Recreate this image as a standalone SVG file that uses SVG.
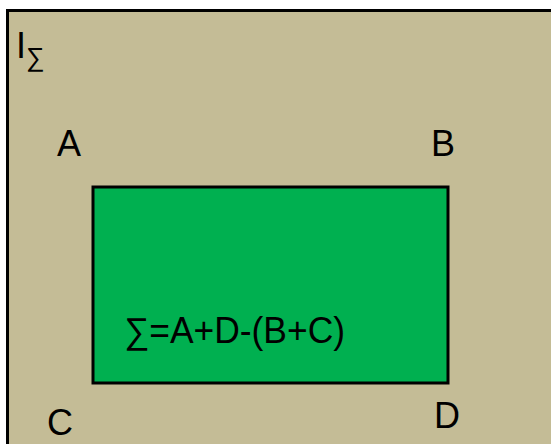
<svg xmlns="http://www.w3.org/2000/svg" width="551" height="444" viewBox="0 0 551 444">
<style>
.lbl{font-family:"Liberation Sans",Arial,sans-serif;font-size:36px;fill:#000}
.box{stroke:#000;stroke-width:3}
</style>
<rect width="551" height="444" fill="#ffffff"/>
<g id="outer">
<rect class="box" x="7.5" y="10.5" width="560" height="450" fill="#C4BC96"/>
<text class="lbl" x="16" y="58">I<tspan font-size="26" dy="8">∑</tspan></text>
</g>
<g id="A"><text class="lbl" x="57" y="156">A</text></g>
<g id="B"><text class="lbl" x="431" y="156">B</text></g>
<g id="C"><text class="lbl" x="47" y="435">C</text></g>
<g id="D"><text class="lbl" x="434" y="428">D</text></g>
<g id="region">
<rect class="box" x="93" y="187" width="355" height="196" fill="#00B050"/>
<text class="lbl" x="124" y="343" textLength="221" lengthAdjust="spacingAndGlyphs">∑=A+D-(B+C)</text>
</g>
<g id="connectors"/>
</svg>
